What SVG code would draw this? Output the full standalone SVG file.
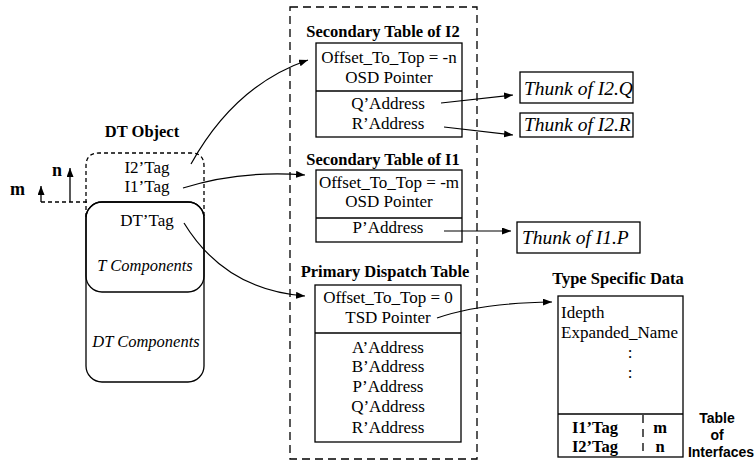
<svg xmlns="http://www.w3.org/2000/svg" width="756" height="460" viewBox="0 0 756 460">
<style>
.t{font-family:"Liberation Serif","Times New Roman",serif;font-size:17px;fill:#000}
.b{font-weight:bold;font-size:16.5px}
.i{font-style:italic;font-size:16.5px}
.th{font-size:19.5px}
.c{text-anchor:middle}
.s{font-family:"Liberation Sans",Arial,sans-serif;font-size:14px;font-weight:bold;text-anchor:middle;fill:#000}
.box{fill:#fff;stroke:#000;stroke-width:1.3}
.ln{fill:none;stroke:#000;stroke-width:1.3}
.dash{fill:none;stroke:#000;stroke-width:1.3;stroke-dasharray:8 5}
.dash2{fill:none;stroke:#000;stroke-width:1.3;stroke-dasharray:4 3}
.con{fill:none;stroke:#000;stroke-width:1.2;marker-end:url(#ah)}
</style>
<defs>
<marker id="ah" markerWidth="9" markerHeight="7" refX="9" refY="3.5" orient="auto" markerUnits="userSpaceOnUse">
<path d="M0,0 L9,3.5 L0,7 z" fill="#000"/>
</marker>
</defs>
<rect width="756" height="460" fill="#fff"/>

<g id="tables-frame">
<rect class="dash" x="290" y="7" width="187" height="452"/>
</g>

<g id="dt-object">
<text class="t b c" x="142" y="137">DT Object</text>
<path class="dash2" d="M86,217 V166 Q86,153 99,153 H191 Q204,153 204,166 V217"/>
<rect class="box" x="86" y="202" width="118" height="180" rx="16" ry="16"/>
<rect class="ln" x="86" y="202" width="118" height="90" rx="16" ry="16"/>
<text class="t c" x="147" y="173">I2’Tag</text>
<text class="t c" x="147" y="192">I1’Tag</text>
<text class="t c" x="147" y="226">DT’Tag</text>
<text class="t i c" x="145" y="271">T Components</text>
<text class="t i c" x="146" y="347">DT Components</text>
</g>

<g id="offsets">
<path class="dash2" d="M41,202 H88"/>
<text class="t b" x="10" y="195" style="font-size:18px">m</text>
<text class="t b" x="52" y="176" style="font-size:18px">n</text>
<path class="ln" d="M41,202 V186" marker-end="url(#ah)"/>
<path class="ln" d="M70,202 V168" marker-end="url(#ah)"/>
</g>

<g id="secondary-i2">
<text class="t b c" x="383" y="37">Secondary Table of I2</text>
<rect class="box" x="316" y="43" width="146" height="94"/>
<path class="ln" d="M316,91 H462"/>
<text class="t c" x="389" y="63">Offset_To_Top = -n</text>
<text class="t c" x="389" y="83">OSD Pointer</text>
<text class="t c" x="388" y="109">Q’Address</text>
<text class="t c" x="388" y="129">R’Address</text>
</g>

<g id="secondary-i1">
<text class="t b c" x="383" y="165">Secondary Table of I1</text>
<rect class="box" x="316" y="170" width="146" height="72"/>
<path class="ln" d="M316,218 H462"/>
<text class="t c" x="389" y="188">Offset_To_Top = -m</text>
<text class="t c" x="389" y="207">OSD Pointer</text>
<text class="t c" x="388" y="233">P’Address</text>
</g>

<g id="primary">
<text class="t b c" x="385" y="277">Primary Dispatch Table</text>
<rect class="box" x="315" y="285" width="146" height="157"/>
<path class="ln" d="M315,333 H461"/>
<text class="t c" x="388" y="303">Offset_To_Top = 0</text>
<text class="t c" x="388" y="323">TSD Pointer</text>
<text class="t c" x="388" y="353">A’Address</text>
<text class="t c" x="388" y="372">B’Address</text>
<text class="t c" x="388" y="392">P’Address</text>
<text class="t c" x="388" y="412">Q’Address</text>
<text class="t c" x="388" y="433">R’Address</text>
</g>

<g id="thunk-i2q">
<rect class="box" x="520" y="72" width="113" height="31"/>
<text class="t i th" x="524" y="95">Thunk of I2.Q</text>
</g>
<g id="thunk-i2r">
<rect class="box" x="520" y="113" width="113" height="24"/>
<text class="t i th" x="524" y="131">Thunk of I2.R</text>
</g>
<g id="thunk-i1p">
<rect class="box" x="517" y="222" width="123" height="31"/>
<text class="t i th" x="522" y="244">Thunk of I1.P</text>
</g>

<g id="tsd">
<text class="t b c" x="618" y="284">Type Specific Data</text>
<rect class="box" x="558" y="296" width="125" height="161"/>
<path class="ln" d="M558,414 H683"/>
<text class="t" x="561" y="318">Idepth</text>
<text class="t" x="561" y="338">Expanded_Name</text>
<text class="t c" x="630" y="358">:</text>
<text class="t c" x="630" y="378">:</text>
<path class="ln" d="M643,415 V457" stroke-dasharray="8 6"/>
<text class="t b c" x="595" y="433">I1’Tag</text>
<text class="t b c" x="595" y="452">I2’Tag</text>
<text class="t b c" x="660" y="433">m</text>
<text class="t b c" x="660" y="452">n</text>
<text class="s" x="717" y="423">Table</text>
<text class="s" x="717" y="440">of</text>
<text class="s" x="721" y="457">Interfaces</text>
</g>

<g id="connectors">
<path class="con" d="M191,164 Q235,85 308,60"/>
<path class="con" d="M183,188 Q240,170 305,175"/>
<path class="con" d="M184,223 Q225,290 305,296"/>
<path class="con" d="M441,103 L513,95"/>
<path class="con" d="M444,127 L513,135"/>
<path class="con" d="M444,231 L511,231"/>
<path class="con" d="M437,318 Q480,303 552,302"/>
</g>
</svg>
